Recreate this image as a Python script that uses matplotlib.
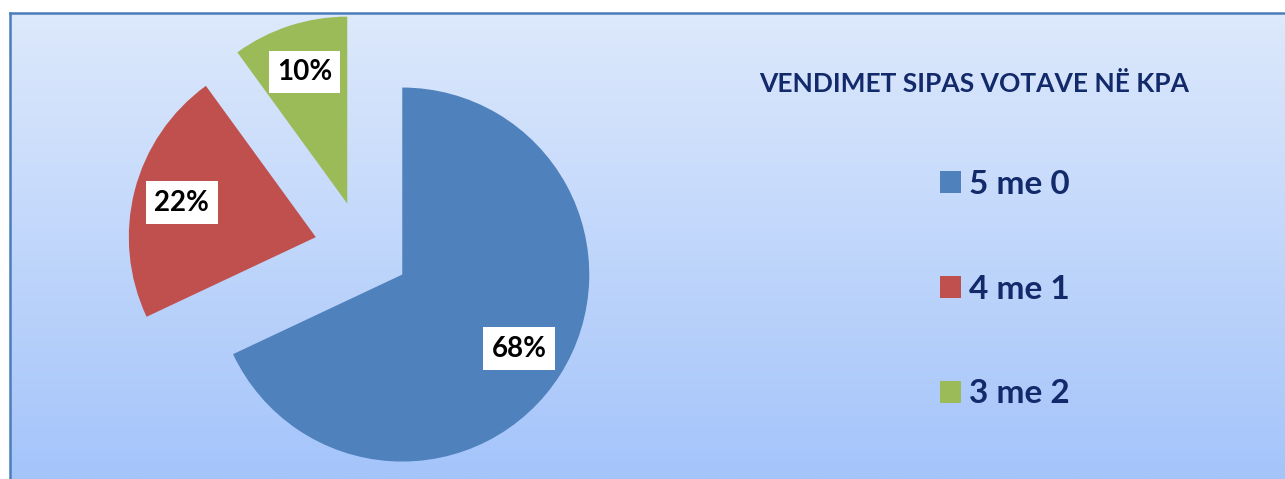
import matplotlib.pyplot as plt
import numpy as np

# chart data
labels = ["5 me 0", "4 me 1", "3 me 2"]
shares = [68, 22, 10]
colors = ["#4F81BD", "#C0504D", "#9BBB59"]
title = "VENDIMET SIPAS VOTAVE NË KPA"

navy = "#12296A"
plt.rcParams["font.family"] = ["Lato", "DejaVu Sans"]

W, H = 1285, 479
fig = plt.figure(figsize=(W / 100, H / 100), dpi=100)

# gradient background panel with a blue frame on top / left
bg = fig.add_axes([10 / W, 0, (W - 10) / W, (H - 13) / H])
grad = np.linspace(0, 1, 256).reshape(-1, 1)
top = np.array([221, 233, 252]) / 255
bot = np.array([164, 196, 250]) / 255
img = top + grad[..., None] * (bot - top)
bg.imshow(img, aspect="auto", extent=[0, 1, 0, 1], origin="upper")
bg.set_xticks([])
bg.set_yticks([])
for side in ["right", "bottom"]:
    bg.spines[side].set_visible(False)
for side in ["left", "top"]:
    bg.spines[side].set_color("#4A7EBB")
    bg.spines[side].set_linewidth(1.8)

# pie axes: radius 1 -> 187 px, centre at (362, 249) px from top-left
r_px = 187
cx, cy = 362, H - 249
half = 1.5 * r_px
ax = fig.add_axes([(cx - half) / W, (cy - half) / H, 2 * half / W, 2 * half / H])

wedges, _, autotexts = ax.pie(
    shares,
    colors=colors,
    explode=[0.255] * len(shares),
    startangle=90,
    counterclock=False,
    autopct=lambda p: f"{p:.0f}%",
    pctdistance=0.74,
    radius=1,
    wedgeprops=dict(linewidth=0),
)
ax.set_xlim(-1.5, 1.5)
ax.set_ylim(-1.5, 1.5)
ax.set_aspect("equal")
ax.axis("off")
for t in autotexts:
    t.set_fontsize(20)
    t.set_fontweight("bold")
    t.set_color("black")
    t.set_bbox(dict(facecolor="white", edgecolor="none", pad=6))

fig.text(974 / W, 1 - 84 / H, title, ha="center", va="center",
         fontsize=19, fontweight="bold", color=navy)

leg = fig.legend(
    wedges, labels,
    loc="upper left",
    bbox_to_anchor=(910 / W, 1 - 140 / H),
    frameon=False,
    fontsize=24,
    labelspacing=2.27,
    handlelength=0.63,
    handleheight=0.63,
    handletextpad=0.25,
)
for t in leg.get_texts():
    t.set_fontweight("bold")
    t.set_color(navy)

fig.savefig("out.png", dpi=100)
